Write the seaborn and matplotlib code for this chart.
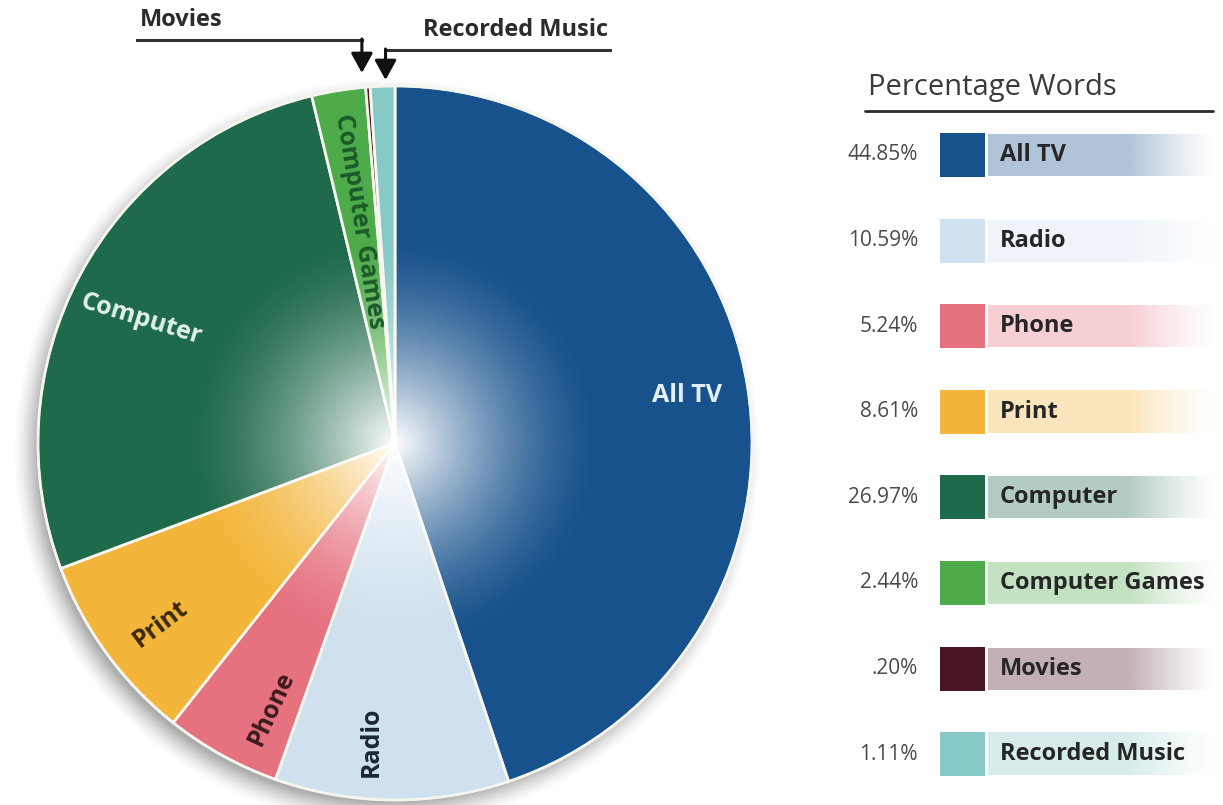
import numpy as np
import matplotlib
matplotlib.use("Agg")
import matplotlib.pyplot as plt
from matplotlib.patches import Circle, Rectangle
import seaborn as sns

# ---- data -------------------------------------------------------------
categories = ["All TV", "Radio", "Phone", "Print", "Computer",
              "Computer Games", "Movies", "Recorded Music"]
shares = [44.85, 10.59, 5.24, 8.61, 26.97, 2.44, 0.20, 1.11]
share_labels = ["44.85%", "10.59%", "5.24%", "8.61%", "26.97%",
                "2.44%", ".20%", "1.11%"]
palette = sns.color_palette(["#17528c", "#cfe1ee", "#e6717f", "#f3b53a",
                             "#1f6a4b", "#4eab4a", "#4a1522", "#86c9c6"])

# ---- styling ----------------------------------------------------------
sns.set_theme(style="white")
plt.rcParams["font.family"] = ["Open Sans", "DejaVu Sans"]

W, H = 1223, 805
fig = plt.figure(figsize=(W / 100, H / 100), dpi=100)
ax = fig.add_axes([0, 0, 1, 1])

cx, cy, R = 395, H - 443, 357

# soft drop shadow under the disc
gx, gy = np.meshgrid(np.linspace(cx - R - 40, cx + R + 40, 500),
                     np.linspace(cy - R - 40, cy + R + 40, 500))
d = np.hypot(gx - (cx - 8), gy - (cy - 10))
sh = np.zeros(gx.shape + (4,))
sh[..., :3] = 0.35
sh[..., 3] = 0.5 * np.clip(1 - (d - (R - 8)) / 26, 0, 1) ** 1.5
ax.imshow(sh, extent=(cx - R - 40, cx + R + 40, cy - R - 40, cy + R + 40),
          origin="lower", zorder=0, interpolation="bilinear")

wedges, _ = ax.pie(shares, colors=palette, startangle=90, counterclock=False,
                   center=(cx, cy), radius=R,
                   wedgeprops=dict(edgecolor="#f7f7ef", linewidth=2.0))
for w in wedges:
    w.set_zorder(1)

# white glow radiating from the centre
gx, gy = np.meshgrid(np.linspace(-1, 1, 600), np.linspace(-1, 1, 600))
r = np.hypot(gx, gy)
glow = np.ones(gx.shape + (4,))
glow[..., 3] = np.clip(1 - r / 0.58, 0, 1) ** 1.5
im = ax.imshow(glow, extent=(cx - R, cx + R, cy - R, cy + R), origin="lower",
               zorder=2, interpolation="bilinear")
im.set_clip_path(Circle((cx, cy), R, transform=ax.transData))

# thin light rim
ax.add_patch(Circle((cx, cy), R, fill=False, ec="#f4f6ee", lw=1.5, zorder=3))

# slice labels placed along each wedge
label_style = {
    "All TV":         dict(r=0.83, da=0,   rot=0,   color="#e6eefa"),
    "Radio":          dict(r=0.84, da=-4,  rot=90,  color="#1d2733"),
    "Phone":          dict(r=0.82, da=4,   rot=65,  color="#3b1a1e"),
    "Print":          dict(r=0.83, da=1.5, rot=37,  color="#3a2a0c"),
    "Computer":       dict(r=0.79, da=2,   rot=-17, color="#e2f2ea"),
    "Computer Games": dict(r=0.63, da=0,   rot=-81, color="#1c5a2a"),
}
for w, name in zip(wedges, categories):
    if name not in label_style:
        continue
    st = label_style[name]
    ang = np.deg2rad((w.theta1 + w.theta2) / 2 + st["da"])
    ax.text(cx + st["r"] * R * np.cos(ang), cy + st["r"] * R * np.sin(ang),
            name, rotation=st["rot"], ha="center", va="center",
            fontsize=18, fontweight="bold", color=st["color"], zorder=4,
            rotation_mode="anchor")

# callouts for the two thinnest slices
callouts = {"Movies": dict(tx=137, line_y=H - 40, tip=H - 73, dx=-6, ha="left"),
            "Recorded Music": dict(tx=610, line_y=H - 50, tip=H - 80, dx=3,
                                   ha="right")}
for w, name in zip(wedges, categories):
    if name not in callouts:
        continue
    c = callouts[name]
    ang = np.deg2rad((w.theta1 + w.theta2) / 2)
    ax_x = cx + R * np.cos(ang) + c["dx"]
    ax.plot([c["tx"], ax_x], [c["line_y"], c["line_y"]], color="#333333",
            lw=2.2, solid_capstyle="projecting", zorder=5)
    ax.annotate("", xy=(ax_x, c["tip"]), xytext=(ax_x, c["line_y"] + 1),
                arrowprops=dict(arrowstyle="-|>,head_length=1.0,head_width=0.55",
                                color="#111111", lw=2.2, shrinkA=0, shrinkB=0),
                zorder=5)
    tx = c["tx"] + (3 if c["ha"] == "left" else -2)
    ax.text(tx, c["line_y"] + 8, name, ha=c["ha"], va="bottom",
            fontsize=17, fontweight="bold", color="#2b2b2b")

# ---- legend panel -----------------------------------------------------
ax.text(868, H - 88, "Percentage Words", ha="left", va="center",
        fontsize=21, color="#3a3a3a")
ax.plot([865, 1213], [H - 111, H - 111], color="#2a2a2a", lw=2)

row0, step = H - 155, 85.6
bx0, bx1 = 988, 1215
t = np.linspace(0, 1, 300)
fade = 0.34 * np.clip((1 - t) / 0.38, 0, 1) ** 1.2
for i, (name, lab, col) in enumerate(zip(categories, share_labels, palette)):
    y = row0 - i * step
    ax.add_patch(Rectangle((940, y - 22), 45, 44, color=col, lw=0, zorder=3))
    bar = np.ones((2, t.size, 4))
    bar[..., :3] = col
    bar[..., 3] = fade
    ax.imshow(bar, extent=(bx0, bx1, y - 21, y + 21), origin="lower",
              zorder=2, interpolation="bilinear", aspect="auto")
    ax.text(918, y, lab, ha="right", va="center", fontsize=15,
            color="#4a4a4a")
    ax.text(1000, y, name, ha="left", va="center", fontsize=17,
            fontweight="bold", color="#262626", zorder=4)

ax.set_xlim(0, W)
ax.set_ylim(0, H)
ax.set_aspect("auto")
ax.axis("off")

fig.savefig("out.png", dpi=100, facecolor="white")
